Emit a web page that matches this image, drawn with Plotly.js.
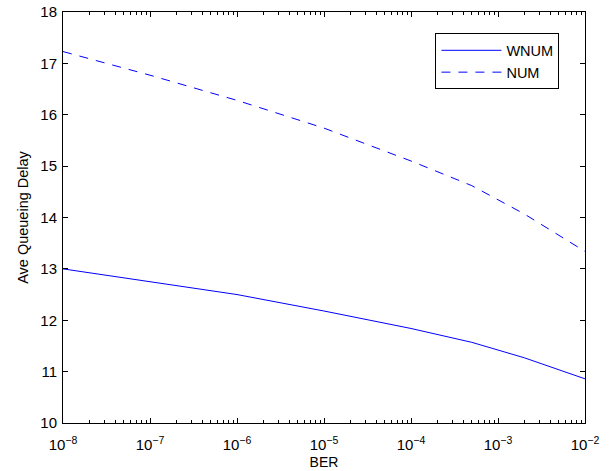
<!DOCTYPE html>
<html>
<head>
<meta charset="utf-8">
<script src="https://cdn.plot.ly/plotly-3.0.1.min.js"></script>
<style>html,body{margin:0;padding:0;background:#fff}#chart{width:614px;height:471px}</style>
</head>
<body>
<div id="chart"></div>
<script>
const ber = [1e-8, 1e-7, 1e-6, 1e-5, 1e-4, 5e-4, 2e-3, 1e-2];
const wnum = [13.0, 12.75, 12.50, 12.18, 11.84, 11.57, 11.27, 10.86];
const num = [17.23, 16.77, 16.28, 15.74, 15.10, 14.62, 14.07, 13.34];
const xTickVals = [1e-8, 1e-7, 1e-6, 1e-5, 1e-4, 1e-3, 1e-2];
const xTickText = ['10<sup>\u22128</sup>', '10<sup>\u22127</sup>', '10<sup>\u22126</sup>', '10<sup>\u22125</sup>', '10<sup>\u22124</sup>', '10<sup>\u22123</sup>', '10<sup>\u22122</sup>'];
const yTickVals = [10, 11, 12, 13, 14, 15, 16, 17, 18];

const minorVals = [];
for (let e = -8; e < -2; e++) {
  for (let m = 2; m <= 9; m++) minorVals.push(m * Math.pow(10, e));
}

const traces = [
  {x: ber, y: wnum, name: 'WNUM', type: 'scatter', mode: 'lines',
   line: {color: '#0000ff', width: 1}},
  {x: ber, y: num, name: 'NUM', type: 'scatter', mode: 'lines',
   line: {color: '#0000ff', width: 1, dash: '9px,8px'}}
];

const fam = 'Liberation Sans, Arial, Helvetica, sans-serif';

const layout = {
  width: 614, height: 471,
  margin: {l: 63, r: 28.5, t: 12, b: 48.3, pad: 0},
  paper_bgcolor: '#fff', plot_bgcolor: '#fff',
  font: {family: fam, size: 15, color: '#000'},
  showlegend: true,
  legend: {
    x: 0.951, y: 0.948, xanchor: 'right', yanchor: 'top',
    bgcolor: '#fff', bordercolor: '#000', borderwidth: 1,
    font: {family: fam, size: 14.5, color: '#000'},
    itemwidth: 60, entrywidth: 58, entrywidthmode: 'pixels'
  },
  xaxis: {
    type: 'log', range: [-8, -2],
    tickmode: 'array', tickvals: xTickVals, ticktext: xTickText,
    ticks: 'inside', ticklen: 5, tickwidth: 1, tickcolor: '#000',
    showline: true, linecolor: '#000', linewidth: 1, mirror: 'ticks',
    showgrid: false, zeroline: false,
    ticklabelstandoff: 8,
    tickfont: {family: fam, size: 15, color: '#000'},
    minor: {tickmode: 'array', tickvals: minorVals, ticks: 'inside', ticklen: 3, tickwidth: 1, tickcolor: '#000', showgrid: false},
    title: {text: 'BER', font: {family: fam, size: 14, color: '#000'}, standoff: 5}
  },
  yaxis: {
    range: [10, 18],
    tickmode: 'array', tickvals: yTickVals,
    ticks: 'inside', ticklen: 5, tickwidth: 1, tickcolor: '#000',
    showline: true, linecolor: '#000', linewidth: 1, mirror: 'ticks',
    showgrid: false, zeroline: false,
    ticklabelstandoff: 2,
    tickfont: {family: fam, size: 15, color: '#000'},
    title: {text: 'Ave Queueing Delay', font: {family: fam, size: 14.5, color: '#000'}, standoff: 8}
  }
};

Plotly.newPlot('chart', traces, layout, {displayModeBar: false, staticPlot: true});
</script>
</body>
</html>
